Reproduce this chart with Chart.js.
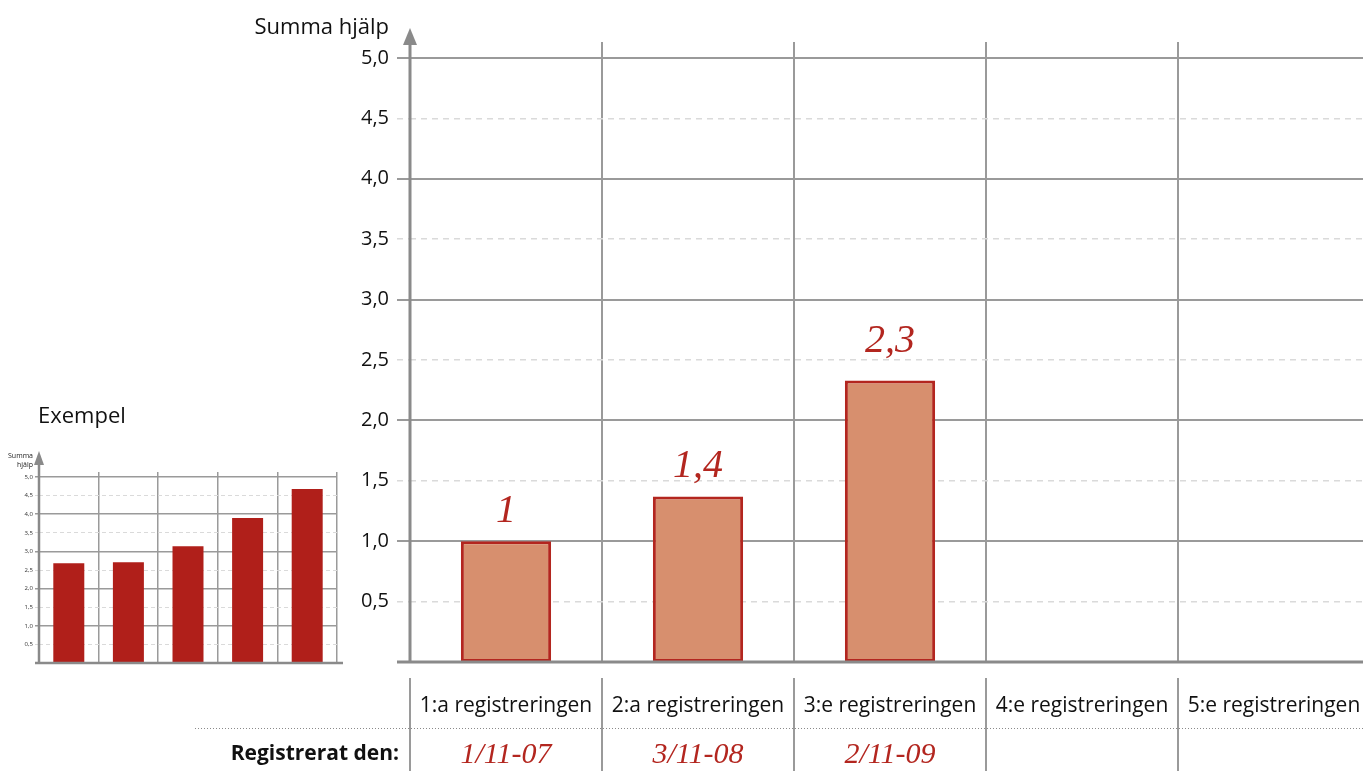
<!DOCTYPE html>
<html>
<head>
<meta charset="utf-8">
<script src="https://cdn.jsdelivr.net/npm/chart.js@4/dist/chart.umd.min.js"></script>
<style>
  html, body { margin: 0; padding: 0; background: #fff; overflow: hidden; width: 1363px; height: 771px; }
  #main { position: absolute; left: 0; top: 0; }
  #mini { position: absolute; left: 0; top: 440px; }
  #exempel { position: absolute; left: 38px; top: 399px; font: 22px 'Open Sans', sans-serif; color: #111; }
</style>
</head>
<body>
<canvas id="main" width="1380" height="771"></canvas>
<canvas id="mini" width="350" height="231"></canvas>
<div id="exempel">Exempel</div>
<script>
// data
const categories = ['1:a registreringen', '2:a registreringen', '3:e registreringen', '4:e registreringen', '5:e registreringen'];
const values = [1.0, 1.37, 2.33];
const dates = ['1/11-07', '3/11-08', '2/11-09', '', ''];
const yTicks = [0.5, 1.0, 1.5, 2.0, 2.5, 3.0, 3.5, 4.0, 4.5, 5.0];
const exampleValues = [2.68, 2.71, 3.14, 3.90, 4.68];

const FONT = "'Open Sans', sans-serif";
const HAND = "'Liberation Serif', serif";
const AXIS = '#8a8a8a';
const GRID = '#9a9a9a';
const DASH = '#dadada';
const RED = '#b3261f';

const fmtTick = v => v.toFixed(1).replace('.', ',');
const fmtValue = v => Number.isInteger(Math.round(v * 10) / 10) ? String(Math.round(v)) : (Math.round(v * 10) / 10).toFixed(1).replace('.', ',');
const isWhole = ctx => ctx.tick && Number.isInteger(ctx.tick.value);

function arrowAxis(ctx, x, yBottom, yTip, lineW, headW, headH) {
  ctx.strokeStyle = AXIS;
  ctx.fillStyle = AXIS;
  ctx.lineWidth = lineW;
  ctx.beginPath();
  ctx.moveTo(x, yBottom);
  ctx.lineTo(x, yTip + headH - 1);
  ctx.stroke();
  ctx.beginPath();
  ctx.moveTo(x, yTip);
  ctx.lineTo(x - headW, yTip + headH);
  ctx.lineTo(x + headW, yTip + headH);
  ctx.closePath();
  ctx.fill();
}

const mainDecor = {
  id: 'mainDecor',
  afterDatasetsDraw(chart) {
    const { ctx, chartArea, scales: { x, y } } = chart;
    const x0 = chartArea.left;
    const y0 = y.getPixelForValue(0);
    ctx.save();

    // value labels above bars
    ctx.fillStyle = RED;
    ctx.font = 'italic 40px ' + HAND;
    ctx.textAlign = 'center';
    ctx.textBaseline = 'alphabetic';
    chart.getDatasetMeta(0).data.forEach((bar, i) => {
      ctx.fillText(fmtValue(values[i]), bar.x, bar.y - 19 - (values[i] > 2 ? 10 : 0));
    });

    // axes
    ctx.strokeStyle = AXIS;
    ctx.lineWidth = 3;
    ctx.beginPath();
    ctx.moveTo(x0 - 13, y0);
    ctx.lineTo(chart.width, y0);
    ctx.stroke();
    arrowAxis(ctx, x0, y0 + 1, 28, 3, 7, 17);

    // y title
    ctx.fillStyle = '#111';
    ctx.font = '22px ' + FONT;
    ctx.textAlign = 'right';
    ctx.fillText('Summa hjälp', 389, 34);

    // table under the axis
    ctx.strokeStyle = GRID;
    ctx.lineWidth = 2;
    for (let i = 0; i < categories.length; i++) {
      const xb = x.getPixelForValue(i - 0.5);
      ctx.beginPath();
      ctx.moveTo(xb, 678);
      ctx.lineTo(xb, 771);
      ctx.stroke();
    }
    ctx.strokeStyle = '#8a8a8a';
    ctx.lineWidth = 1;
    ctx.setLineDash([1, 2]);
    ctx.beginPath();
    ctx.moveTo(195, 728.5);
    ctx.lineTo(chart.width, 728.5);
    ctx.stroke();
    ctx.setLineDash([]);

    ctx.fillStyle = '#111';
    ctx.font = 'bold 21px ' + FONT;
    ctx.textAlign = 'right';
    ctx.fillText('Registrerat den:', 399, 760);

    ctx.fillStyle = RED;
    ctx.font = 'italic 30px ' + HAND;
    ctx.textAlign = 'center';
    dates.forEach((d, i) => {
      if (d) ctx.fillText(d, x.getPixelForValue(i), 763);
    });
    ctx.restore();
  }
};

new Chart(document.getElementById('main').getContext('2d'), {
  type: 'bar',
  data: {
    labels: categories,
    datasets: [{
      data: values,
      backgroundColor: '#d78f6e',
      borderColor: RED,
      borderWidth: 3,
      borderSkipped: false,
      categoryPercentage: 1,
      barPercentage: 0.47
    }]
  },
  options: {
    responsive: false,
    animation: false,
    layout: { padding: { left: 0, right: 10, top: 42, bottom: 0 } },
    plugins: { legend: { display: false }, tooltip: { enabled: false } },
    scales: {
      x: {
        offset: true,
        grid: { offset: true, color: GRID, lineWidth: 2, drawTicks: false },
        border: { display: false },
        ticks: { color: '#111', font: { family: FONT, size: 21 }, padding: 31 },
        afterFit: s => { s.height = 109; s.paddingLeft = 0; s.paddingRight = 0; }
      },
      y: {
        min: 0,
        max: 5.132,
        afterBuildTicks: s => { s.ticks = yTicks.map(v => ({ value: v })); },
        grid: {
          color: c => isWhole(c) ? GRID : DASH,
          lineWidth: c => isWhole(c) ? 2 : 1.5,
          tickLength: 13,
          tickColor: c => isWhole(c) ? GRID : DASH,
          tickBorderDash: c => isWhole(c) ? [] : [6, 5]
        },
        border: { display: false, dash: c => isWhole(c) ? [] : [6, 5] },
        ticks: { color: '#111', font: { family: FONT, size: 20 }, padding: 8, callback: v => fmtTick(v) },
        afterFit: s => { s.width = 410; }
      }
    }
  },
  plugins: [mainDecor]
});

// small example chart
const miniDecor = {
  id: 'miniDecor',
  afterDatasetsDraw(chart) {
    const { ctx, chartArea, scales: { y } } = chart;
    const x0 = chartArea.left;
    const y0 = y.getPixelForValue(0);
    ctx.save();
    ctx.strokeStyle = AXIS;
    ctx.lineWidth = 2.5;
    ctx.beginPath();
    ctx.moveTo(x0 - 4, y0);
    ctx.lineTo(343, y0);
    ctx.stroke();
    arrowAxis(ctx, x0, y0 + 1, 11, 2.5, 5, 14);
    ctx.fillStyle = '#222';
    ctx.font = '7px ' + FONT;
    ctx.textAlign = 'right';
    ctx.fillText('Summa', 33, 18);
    ctx.fillText('hjälp', 33, 27);
    ctx.restore();
  }
};

new Chart(document.getElementById('mini').getContext('2d'), {
  type: 'bar',
  data: {
    labels: categories,
    datasets: [{
      data: exampleValues,
      backgroundColor: '#b01f1a',
      borderWidth: 0,
      categoryPercentage: 1,
      barPercentage: 0.52
    }]
  },
  options: {
    responsive: false,
    animation: false,
    layout: { padding: { left: 0, right: 13, top: 32, bottom: 0 } },
    plugins: { legend: { display: false }, tooltip: { enabled: false } },
    scales: {
      x: {
        offset: true,
        grid: { offset: true, color: GRID, lineWidth: 1.5, drawTicks: false },
        border: { display: false },
        ticks: { display: false },
        afterFit: s => { s.height = 8; }
      },
      y: {
        min: 0,
        max: 5.135,
        afterBuildTicks: s => { s.ticks = yTicks.map(v => ({ value: v })); },
        grid: {
          color: c => isWhole(c) ? GRID : DASH,
          lineWidth: c => isWhole(c) ? 1.5 : 1,
          tickLength: 4,
          tickColor: c => isWhole(c) ? GRID : DASH,
          tickBorderDash: c => isWhole(c) ? [] : [4, 3]
        },
        border: { display: false, dash: c => isWhole(c) ? [] : [4, 3] },
        ticks: { color: '#333', font: { family: FONT, size: 6 }, padding: 2, callback: v => fmtTick(v) },
        afterFit: s => { s.width = 39; }
      }
    }
  },
  plugins: [miniDecor]
});
</script>
</body>
</html>
